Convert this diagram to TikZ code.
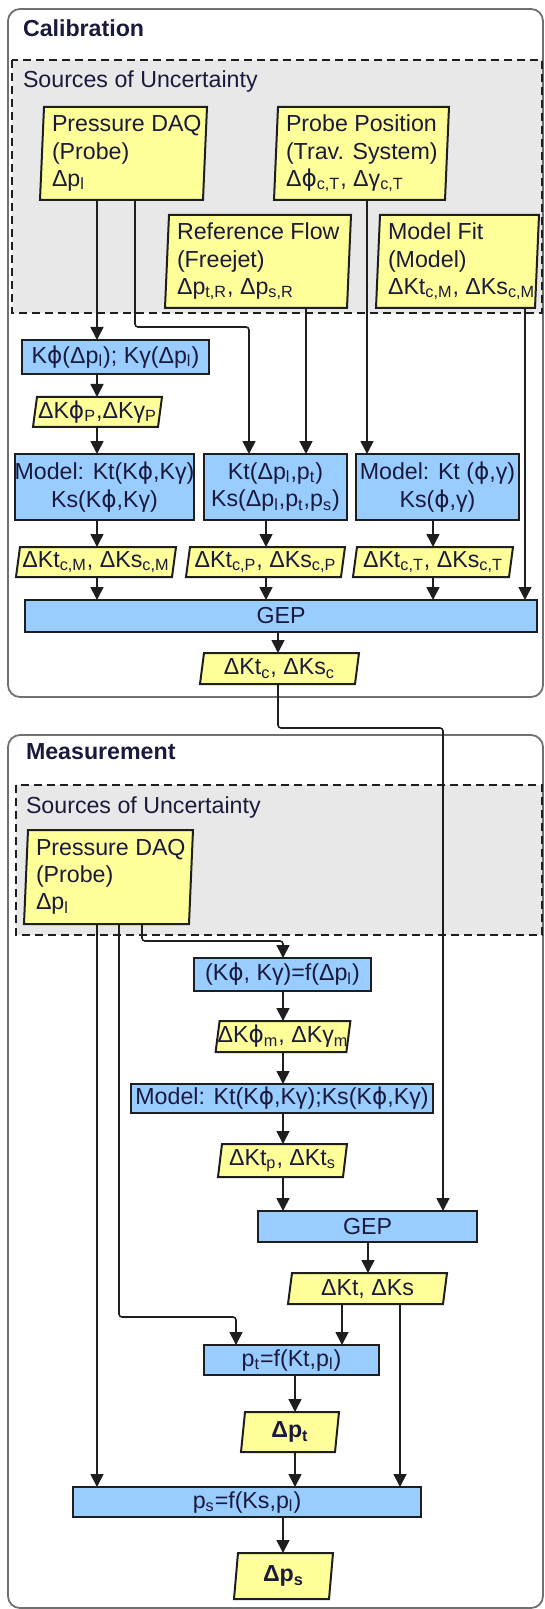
\documentclass[tikz,border=0pt]{standalone}
\usepackage{fontspec}
\setmainfont{Liberation Sans}
\newfontfamily\dvs{DejaVu Sans}
\usetikzlibrary{arrows.meta}
\pgfdeclarelayer{back}
\pgfdeclarelayer{mid}
\pgfsetlayers{back,mid,main}
\definecolor{yel}{HTML}{FFFF99}
\definecolor{blu}{HTML}{99CCFF}
\definecolor{gry}{HTML}{E8E8E8}
\definecolor{bd}{HTML}{1E1E1E}
\definecolor{txt}{HTML}{1A1A3C}
\definecolor{frm}{HTML}{707070}
\newcommand\fph{{\dvs ϕ}}
\newcommand\lsub[1]{\textsubscript{#1}}
\newcommand\fs{\fontsize{11.6pt}{13.6pt}\selectfont}
\newcommand\bx[7][]{%
  \node[#1, minimum width={(#5-#3)*0.5pt}, minimum height={(#6-#4)*0.5pt}] (#2) at ({(#3+#5)/2},{(#4+#6)/2}) {#7};}
\newcommand\yb[7][]{%
  \bx[ynode,#1]{#2}{#3}{#4}{#5}{#6}{#7}%
  \begin{pgfonlayer}{mid}
  \path[yshape] ([xshift=1pt]#2.north west) -- ([xshift=1pt]#2.north east) -- ([xshift=-1pt]#2.south east) -- ([xshift=-1pt]#2.south west) -- cycle;
  \end{pgfonlayer}}
\newcommand\sbx[6]{% name x1 y1 x2 y2 text
  \yb{#1}{#2}{#3}{#4}{#5}{}%
  \node[src] (#1t) at ({#2+10},{(#3+#5)/2}) {#6};}
\tikzset{
  every node/.style={font=\fs, text=txt, inner sep=0pt, outer sep=0pt},
  bbox/.style={draw=bd, fill=blu, line width=1pt, align=center},
  ynode/.style={align=center},
  src/.style={anchor=west, align=left},
  yshape/.style={draw=bd, fill=yel, line width=1pt},
  frame/.style={draw=frm, line width=0.9pt, rounded corners=6pt},
  srcbg/.style={draw=bd, fill=gry, line width=0.9pt, dash pattern=on 4pt off 2.5pt},
  title/.style={anchor=west, font=\fs\bfseries},
  stitle/.style={anchor=west},
  arr/.style={draw=bd, line width=0.8pt, rounded corners=1.5pt, -{Triangle[length=6.5pt,width=6.5pt]}},
}
\begin{document}
\begin{tikzpicture}[x=0.5pt,y=-0.5pt]
\useasboundingbox (0,0) rectangle (545,1609);
\begin{pgfonlayer}{back}
\draw[frame] (8,9) rectangle (543,697);
\draw[srcbg] (12,60) rectangle (542,313);
\draw[frame] (8,735) rectangle (543,1608);
\draw[srcbg] (16,785) rectangle (542,935);
\end{pgfonlayer}
% titles
\node[title] (tcal) at (23,28) {Calibration};
\node[stitle] (tsrc1) at (23,82) {Sources of Uncertainty};
\node[title] (tmeas) at (26,752) {Measurement};
\node[stitle] (tsrc2) at (26,807) {Sources of Uncertainty};
% calibration sources
\sbx{pdaq1}{42}{107}{205}{200}{Pressure DAQ\\(Probe)\\Δp\lsub{l}}
\sbx{pprobe}{276}{107}{447}{200}{Probe Position\\(Trav. System)\\Δ\fph\lsub{c,T}, Δγ\lsub{c,T}}
\sbx{refflow}{167}{215}{349}{308}{Reference Flow\\(Freejet)\\Δp\lsub{t,R}, Δp\lsub{s,R}}
\sbx{modfit}{378}{215}{537}{308}{Model Fit\\(Model)\\ΔKt\lsub{c,M}, ΔKs\lsub{c,M}}
% calibration processing
\bx[bbox]{kphi}{22}{340}{209}{374}{K\fph(Δp\lsub{l}); Kγ(Δp\lsub{l})}
\yb{dkphi}{35}{397}{160}{427}{ΔK\fph\lsub{P},ΔKγ\lsub{P}}
\bx[bbox]{m1}{17}{454}{192}{520}{Model: Kt(K\fph,Kγ)\\Ks(K\fph,Kγ)}
\bx[bbox]{m2}{204}{454}{347}{520}{Kt(Δp\lsub{l},p\lsub{t})\\Ks(Δp\lsub{l},p\lsub{t},p\lsub{s})}
\bx[bbox]{m3}{356}{454}{519}{520}{Model: Kt (\fph,γ)\\Ks(\fph,γ)}
\yb{dm1}{18}{547}{174}{577}{ΔKt\lsub{c,M}, ΔKs\lsub{c,M}}
\yb{dm2}{188}{547}{343}{577}{ΔKt\lsub{c,P}, ΔKs\lsub{c,P}}
\yb{dm3}{355}{547}{511}{577}{ΔKt\lsub{c,T}, ΔKs\lsub{c,T}}
\bx[bbox]{gep1}{25}{600}{537}{632}{GEP}
\yb{dkc}{202}{653}{357}{684}{ΔKt\lsub{c}, ΔKs\lsub{c}}
% measurement
\sbx{pdaq2}{26}{830}{191}{924}{Pressure DAQ\\(Probe)\\Δp\lsub{l}}
\bx[bbox]{kk}{194}{958}{371}{991}{(K\fph, Kγ)=f(Δp\lsub{l})}
\yb{dkm}{221}{1021}{345}{1052}{ΔK\fph\lsub{m}, ΔKγ\lsub{m}}
\bx[bbox]{mm}{131}{1084}{433}{1113}{Model: Kt(K\fph,Kγ);Ks(K\fph,Kγ)}
\yb{dkp}{220}{1144}{345}{1177}{ΔKt\lsub{p}, ΔKt\lsub{s}}
\bx[bbox]{gep2}{258}{1211}{477}{1242}{GEP}
\yb{dkt}{290}{1273}{445}{1304}{ΔKt, ΔKs}
\bx[bbox]{pt}{204}{1345}{379}{1375}{p\lsub{t}=f(Kt,p\lsub{l})}
\yb[font=\fs\bfseries]{dpt}{243}{1412}{337}{1452}{Δp\lsub{t}}
\bx[bbox]{ps}{73}{1487}{421}{1517}{p\lsub{s}=f(Ks,p\lsub{l})}
\yb[font=\fs\bfseries]{dps}{236}{1553}{331}{1599}{Δp\lsub{s}}
% x / y guides for connectors
\coordinate (xa) at (97,0);
\coordinate (xb) at (135,0);
\coordinate (xc) at (249,0);
\coordinate (xd) at (306,0);
\coordinate (xe) at (367,0);
\coordinate (xf) at (525,0);
\coordinate (xg) at (266,0);
\coordinate (xh) at (433,0);
\coordinate (xi) at (278,0);
\coordinate (xj) at (443,0);
\coordinate (xk) at (142,0);
\coordinate (xl) at (119,0);
\coordinate (xm) at (283,0);
\coordinate (xn) at (368,0);
\coordinate (xo) at (236,0);
\coordinate (xp) at (342,0);
\coordinate (xq) at (400,0);
\coordinate (xr) at (295,0);
\coordinate (yb) at (0,327);
\coordinate (yj) at (0,728);
\coordinate (yk) at (0,941);
\coordinate (yl) at (0,1317);
% calibration connectors
\draw[arr] (pdaq1.south -| xa) -- (kphi.north -| xa);
\draw[arr] (pdaq1.south -| xb) |- (yb -| xc) -- (m2.north -| xc);
\draw[arr] (kphi.south -| xa) -- (dkphi.north -| xa);
\draw[arr] (dkphi.south -| xa) -- (m1.north -| xa);
\draw[arr] (refflow.south -| xd) -- (m2.north -| xd);
\draw[arr] (pprobe.south -| xe) -- (m3.north -| xe);
\draw[arr] (modfit.south -| xf) -- (gep1.north -| xf);
\draw[arr] (m1.south -| xa) -- (dm1.north -| xa);
\draw[arr] (dm1.south -| xa) -- (gep1.north -| xa);
\draw[arr] (m2.south -| xg) -- (dm2.north -| xg);
\draw[arr] (dm2.south -| xg) -- (gep1.north -| xg);
\draw[arr] (m3.south -| xh) -- (dm3.north -| xh);
\draw[arr] (dm3.south -| xh) -- (gep1.north -| xh);
\draw[arr] (gep1.south -| xi) -- (dkc.north -| xi);
\draw[arr] (dkc.south -| xi) |- (yj -| xj) -- (gep2.north -| xj);
% measurement connectors
\draw[arr] (pdaq2.south -| xk) |- (yk -| xm) -- (kk.north -| xm);
\draw[arr] (kk.south -| xm) -- (dkm.north -| xm);
\draw[arr] (dkm.south -| xm) -- (mm.north -| xm);
\draw[arr] (mm.south -| xm) -- (dkp.north -| xm);
\draw[arr] (dkp.south -| xm) -- (gep2.north -| xm);
\draw[arr] (gep2.south -| xn) -- (dkt.north -| xn);
\draw[arr] (pdaq2.south -| xl) |- (yl -| xo) -- (pt.north -| xo);
\draw[arr] (dkt.south -| xp) -- (pt.north -| xp);
\draw[arr] (dkt.south -| xq) -- (ps.north -| xq);
\draw[arr] (pt.south -| xr) -- (dpt.north -| xr);
\draw[arr] (dpt.south -| xr) -- (ps.north -| xr);
\draw[arr] (pdaq2.south -| xa) -- (ps.north -| xa);
\draw[arr] (ps.south -| xm) -- (dps.north -| xm);
\end{tikzpicture}
\end{document}
